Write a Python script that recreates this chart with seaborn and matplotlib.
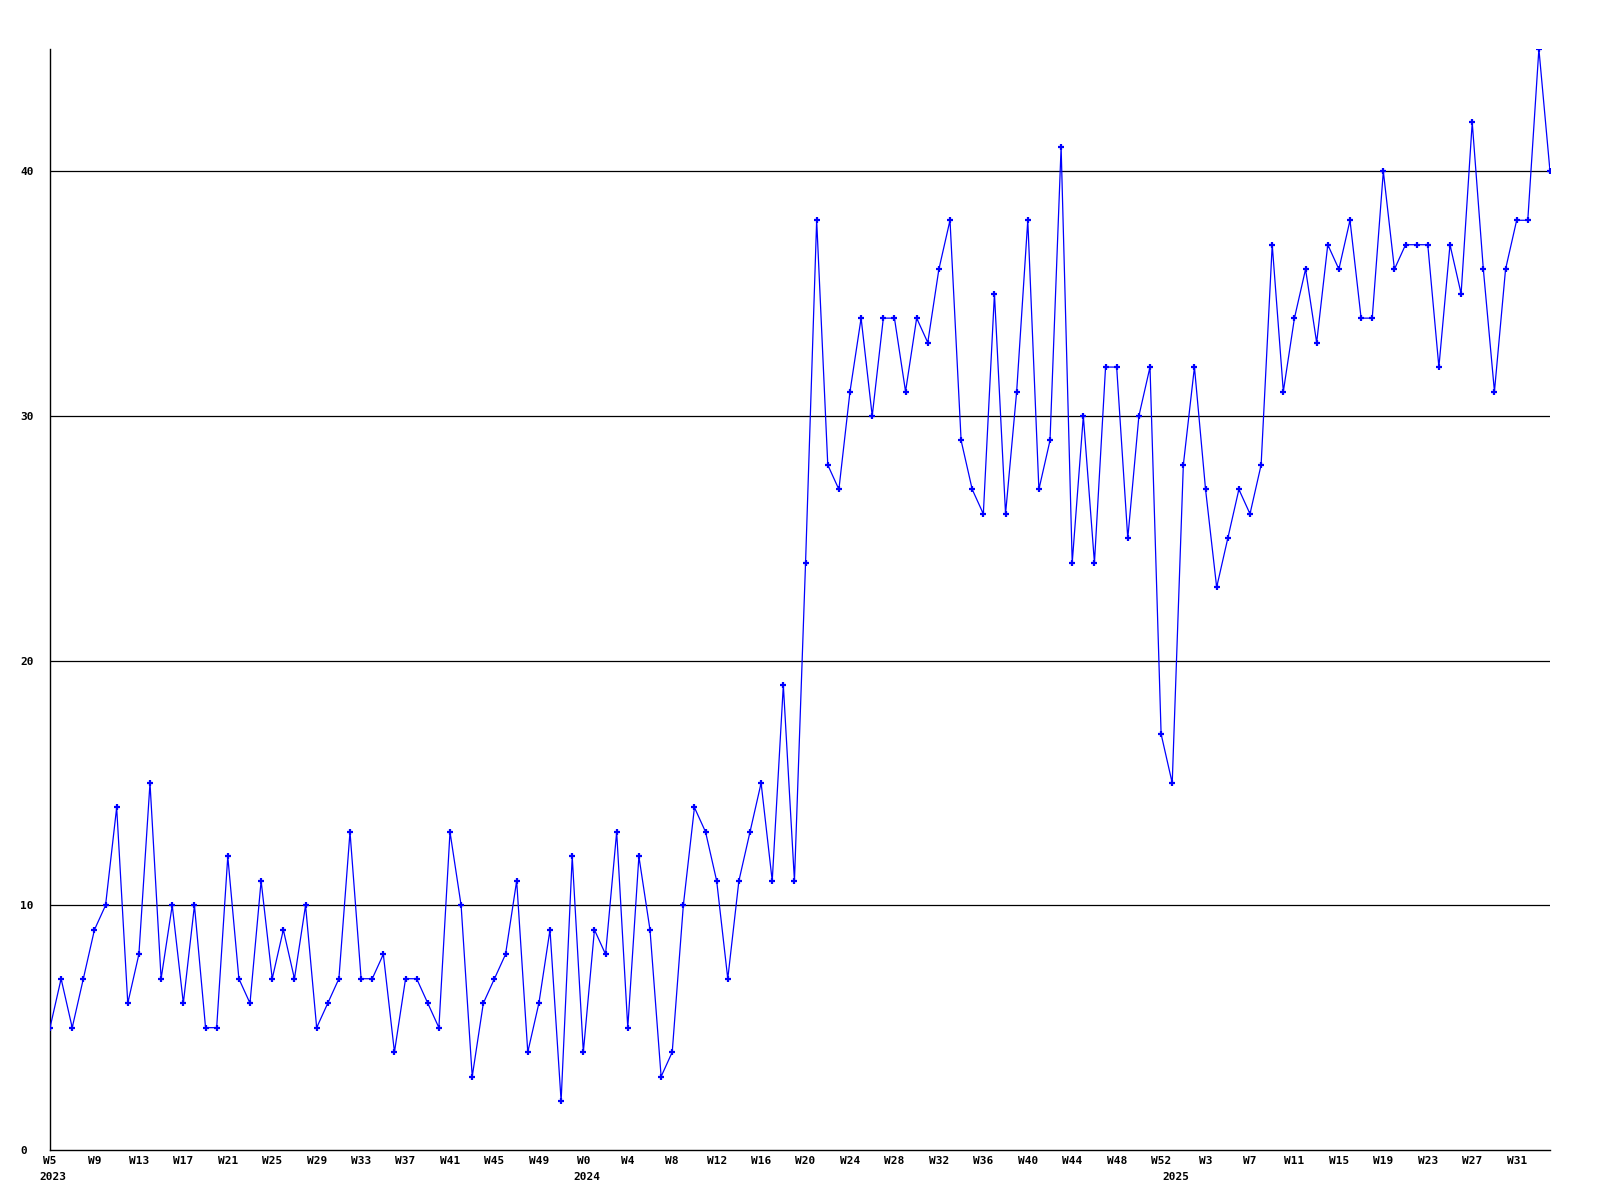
import numpy as np
import pandas as pd
import seaborn as sns
import matplotlib
matplotlib.use("Agg")
import matplotlib.pyplot as plt
import matplotlib.transforms as mtransforms

# weekly counts, W5 2023 -> W34 2025
values = [5, 7, 5, 7, 9, 10, 14, 6, 8, 15, 7, 10, 6, 10, 5, 5, 12, 7, 6, 11,
          7, 9, 7, 10, 5, 6, 7, 13, 7, 7, 8, 4, 7, 7, 6, 5, 13, 10, 3, 6,
          7, 8, 11, 4, 6, 9, 2, 12, 4, 9, 8, 13, 5, 12, 9, 3, 4, 10, 14, 13,
          11, 7, 11, 13, 15, 11, 19, 11, 24, 38, 28, 27, 31, 34, 30, 34, 34, 31, 34, 33,
          36, 38, 29, 27, 26, 35, 26, 31, 38, 27, 29, 41, 24, 30, 24, 32, 32, 25, 30, 32,
          17, 15, 28, 32, 27, 23, 25, 27, 26, 28, 37, 31, 34, 36, 33, 37, 36, 38, 34, 34,
          40, 36, 37, 37, 37, 32, 37, 35, 42, 36, 31, 36, 38, 38, 45, 40]

# tick labels every 4 weeks
tick_pos = list(range(0, 133, 4))
tick_labels = ["W5", "W9", "W13", "W17", "W21", "W25", "W29", "W33", "W37", "W41", "W45", "W49",
               "W0", "W4", "W8", "W12", "W16", "W20", "W24", "W28", "W32", "W36", "W40", "W44",
               "W48", "W52", "W3", "W7", "W11", "W15", "W19", "W23", "W27", "W31"]
year_pos = [0, 48, 101]
year_labels = ["2023", "2024", "2025"]
y_ticks = [0, 10, 20, 30, 40]

df = pd.DataFrame({"week": np.arange(len(values)), "count": values})

sns.set_style("white")
plt.rcParams['font.family'] = ['DejaVu Sans Mono']
plt.rcParams['text.color'] = 'black'
plt.rcParams['xtick.color'] = 'black'
plt.rcParams['ytick.color'] = 'black'

fig = plt.figure(figsize=(16, 12), dpi=100)
ax = fig.add_axes([50 / 1600, 50 / 1200, 1500 / 1600, 1101 / 1200])

for y in y_ticks[1:]:
    ax.axhline(y, color="black", lw=0.9, zorder=1)

sns.lineplot(data=df, x="week", y="count", ax=ax, color="#0000ff", lw=0.9,
             marker="+", markersize=5, markeredgewidth=1.6, markeredgecolor="#0000ff",
             zorder=3)

ax.set_xlim(0, len(values) - 1)
ax.set_ylim(0, 45)
ax.set_xlabel("")
ax.set_ylabel("")

ax.set_xticks(tick_pos)
ax.set_xticklabels(tick_labels, fontsize=8, fontweight="bold")
ax.set_yticks(y_ticks)
ax.set_yticklabels([str(v) for v in y_ticks], fontsize=8, fontweight="bold", ha="left")
ax.tick_params(axis="x", length=0, pad=4, labelcolor="black")
ax.tick_params(axis="y", length=0, pad=21.6, labelcolor="black")

trans = mtransforms.blended_transform_factory(ax.transData, ax.transAxes)
for p, lab in zip(year_pos, year_labels):
    ax.text(p + 0.3, -0.0245, lab, transform=trans, ha="center", va="center",
            fontsize=8, fontweight="bold", color="black")

for side in ["top", "right"]:
    ax.spines[side].set_visible(False)
for side in ["left", "bottom"]:
    ax.spines[side].set_color("black")
    ax.spines[side].set_linewidth(1.0)

fig.savefig("out.png", dpi=100, facecolor="white")
